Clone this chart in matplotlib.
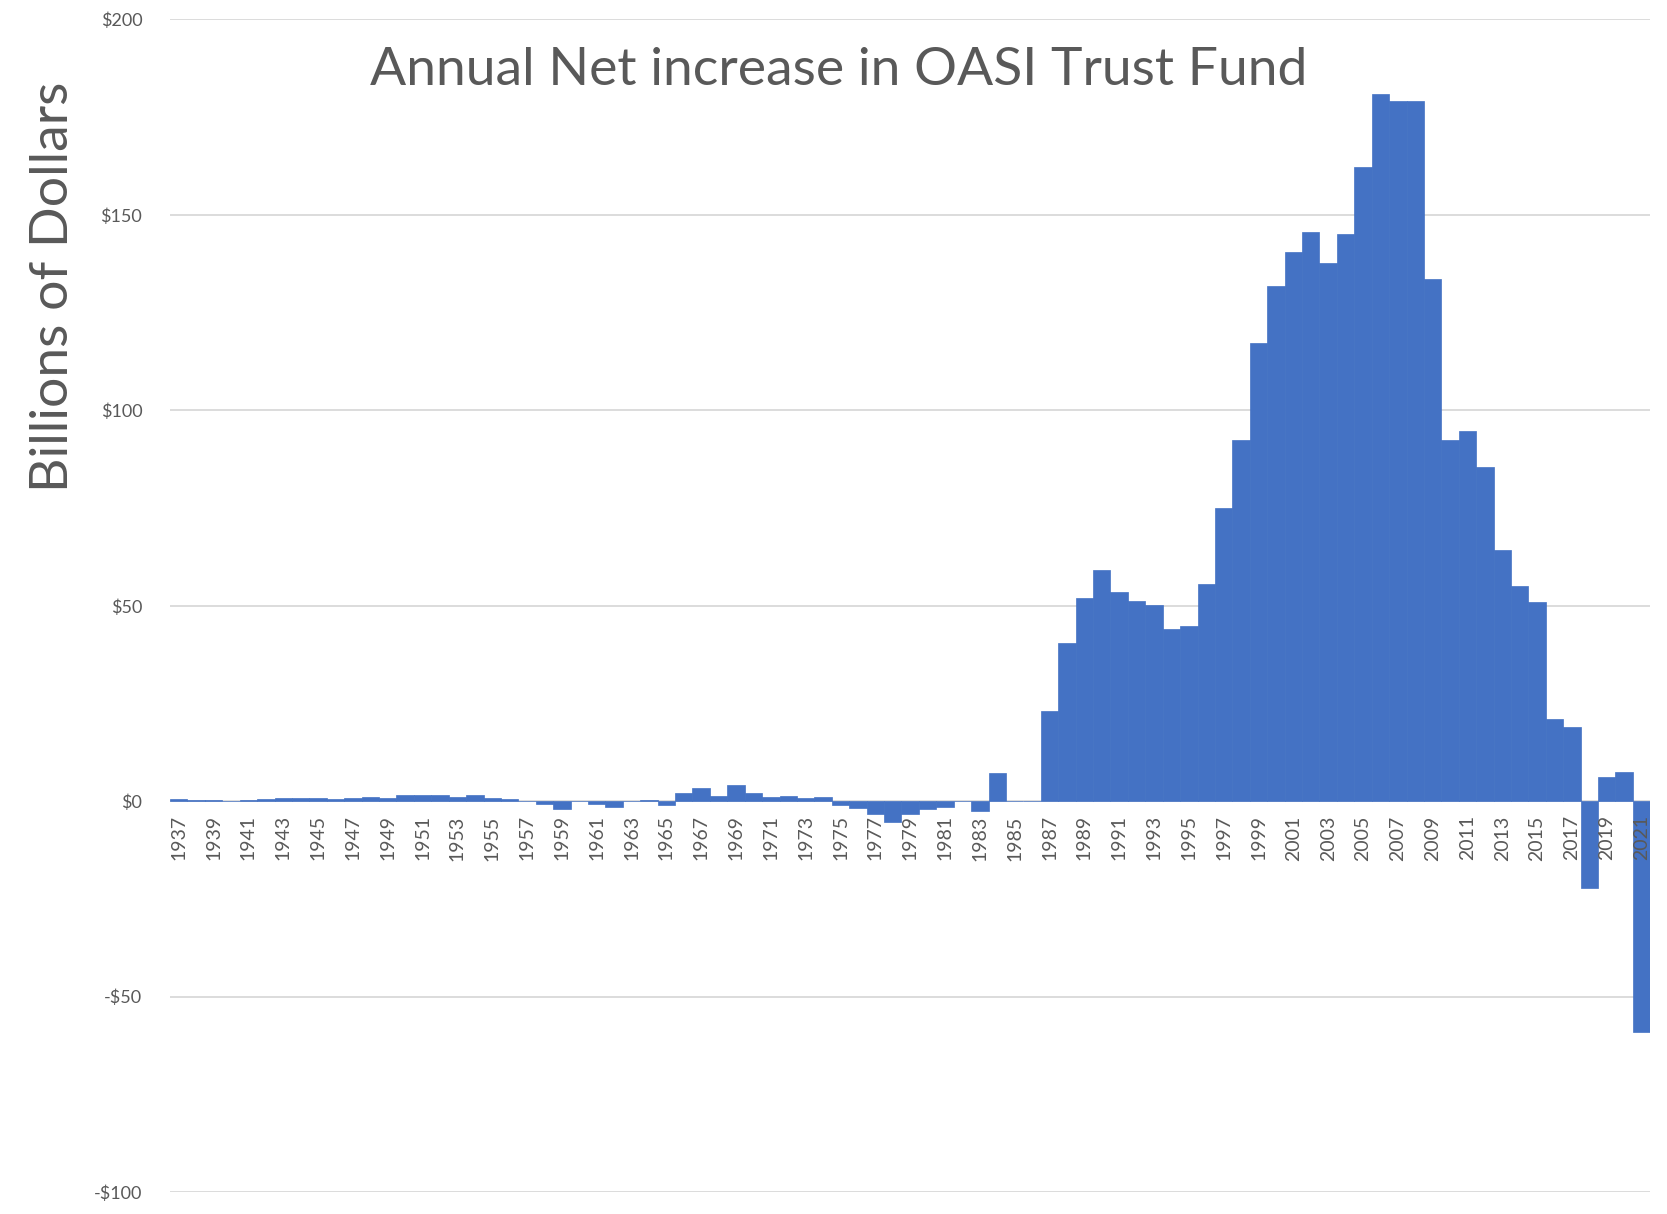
import numpy as np
import matplotlib.pyplot as plt

plt.rcParams['font.family'] = ['Lato', 'DejaVu Sans']

# 数据 (billions of dollars)
years = list(range(1937, 2022))
net_increase = [
    0.6, 0.2, 0.4, 0.1, 0.4, 0.7, 0.9, 0.9, 0.9, 0.7,   # 1937-1946
    0.9, 1.1, 0.9, 1.6, 1.6, 1.6, 1.1, 1.6, 0.9, 0.7,   # 1947-1956
    0.0, -0.7, -2.0, 0.1, -0.8, -1.6, 0.0, 0.4, -1.0, 2.1,  # 1957-1966
    3.5, 1.3, 4.2, 2.1, 1.0, 1.3, 0.9, 1.1, -0.9, -1.8,  # 1967-1976
    -3.2, -5.2, -3.2, -2.0, -1.5, 0.0, -2.6, 7.2, 0.0, 0.0,  # 1977-1986
    23.1, 40.6, 52.0, 59.1, 53.5, 51.2, 50.1, 44.1, 44.8, 55.6,  # 1987-1996
    74.9, 92.4, 117.1, 131.9, 140.4, 145.7, 137.6, 145.0, 162.3, 181.0,  # 1997-2006
    179.2, 179.2, 133.7, 92.3, 94.8, 85.4, 64.2, 55.0, 50.9, 21.1,  # 2007-2016
    19.0, -22.3, 6.3, 7.5, -59.1,  # 2017-2021
]
y_ticks = [-100, -50, 0, 50, 100, 150, 200]
y_tick_labels = ['-$100', '-$50', '$0', '$50', '$100', '$150', '$200']

grey = '#595959'

fig = plt.figure(figsize=(16.67, 12.14), dpi=100)
ax = fig.add_axes([0.102, 0.018, 0.888, 0.966])

ax.bar(years, net_increase, width=1.0, color='#4472C4', edgecolor='#4472C4',
       linewidth=0.5, zorder=2)

ax.set_xlim(1936.5, 2021.5)
ax.set_ylim(-100, 200)
ax.set_yticks(y_ticks)
ax.set_yticklabels(y_tick_labels, fontsize=13, color=grey)
ax.tick_params(axis='y', length=0, pad=20)
ax.set_xticks([])
ax.grid(axis='y', color='#D9D9D9', linewidth=1.3, zorder=0)
ax.set_axisbelow(True)
for s in ax.spines.values():
    s.set_visible(False)

# 年份标签 (在零线下方)
for yr in years[::2]:
    ax.text(yr, -3.6, str(yr), rotation=90, ha='center', va='top',
            fontsize=14, color=grey, zorder=3)

fig.text(0.503, 0.942, 'Annual Net increase in OASI Trust Fund',
         ha='center', va='center', fontsize=38.5, color=grey)
fig.text(0.032, 0.764, 'Billions of Dollars', rotation=90,
         ha='center', va='center', fontsize=38.5, color=grey)

fig.savefig('out.png', dpi=100)
